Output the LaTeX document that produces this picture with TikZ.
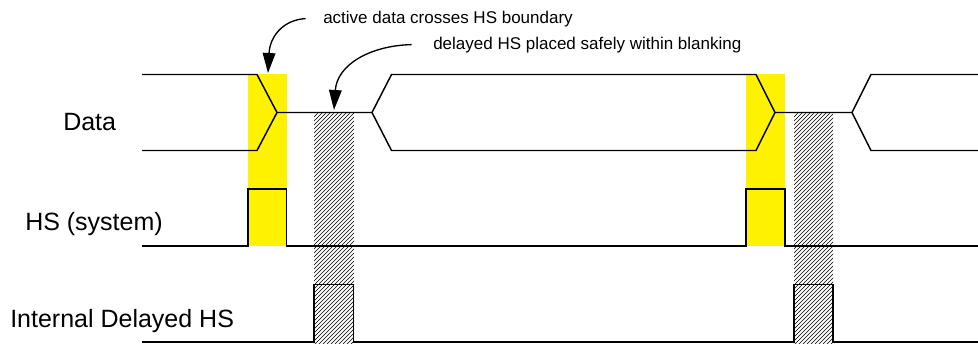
\documentclass[tikz,border=0pt]{standalone}
\usepackage{fontspec}
\setmainfont{Liberation Sans}
\usepackage{tikz}
\usetikzlibrary{calc,patterns,arrows.meta}

\begin{document}
\begin{tikzpicture}[x=0.75pt, y=-0.75pt,
    wave/.style={black, line width=1.1pt},
    hl/.style={fill=yellow},
    hatch/.style={pattern=north east lines, pattern color=black},
    lbl/.style={font=\fontsize{18.75}{20}\selectfont, anchor=base west, inner sep=0pt},
    note/.style={font=\fontsize{12.75}{14}\selectfont, anchor=base west, inner sep=0pt},
    callout/.style={black, line width=1pt, -{Triangle[length=15pt, width=9.5pt]}}]
  \useasboundingbox (0,0) rectangle (978,343);
  % HS crossing and blanking areas
  \fill[hl] (248,74) rectangle (287,246);
  \fill[hl] (746,74) rectangle (785,246);
  \fill[hatch] (314,113.5) rectangle (354,343);
  \fill[hatch] (794,113.5) rectangle (833,343);
  % Data
  \draw[wave] (142,74.5) -- (257,74.5) -- (277,112.5) -- (372,112.5) -- (391.5,74.5) -- (756,74.5) -- (775,112.5) -- (852,112.5) -- (871,74.5) -- (978,74.5);
  \draw[wave] (142,150.5) -- (257,150.5) -- (277,112.5);
  \draw[wave] (372,112.5) -- (391.5,150.5) -- (756,150.5) -- (775,112.5);
  \draw[wave] (852,112.5) -- (871,150.5) -- (978,150.5);
  % HS (system)
  \draw[wave] (142,246) -| (248,189) -| (286.5,246) -| (746,189) -| (785,246) -- (978,246);
  % Internal Delayed HS
  \draw[wave] (142,342) -| (314,284.5) -| (353.5,342) -| (794,284.5) -| (833,342) -- (978,342);
  \node[lbl] (data) at (63,130) {Data};
  \node[lbl] (hs) at (25,230) {HS (system)};
  \node[lbl] (ihs) at (10,327) {Internal Delayed HS};
  % notes
  \node[note] (cross) at (323,23) {active data crosses HS boundary};
  \node[note] (safe) at (433,49) {delayed HS placed safely within blanking};
  \coordinate (crosstip) at (268,73);
  \coordinate (safetip) at (334,110);
  \draw[callout] ([xshift=-13pt]cross.west) .. controls +(-21,1) and +(2,-38) .. (crosstip);
  \draw[callout] ([xshift=-16pt]safe.west) .. controls +(-42,1) and +(3,-45) .. (safetip);
\end{tikzpicture}
\end{document}
